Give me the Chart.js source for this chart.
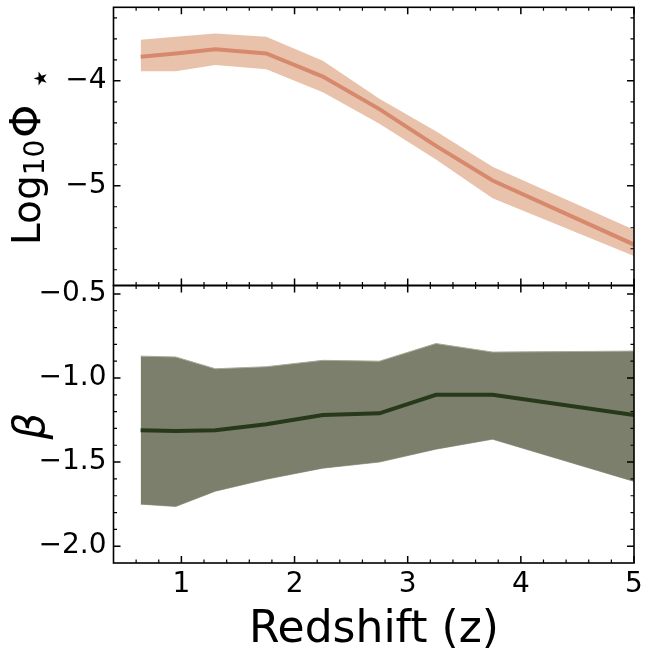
<!DOCTYPE html>
<html>
<head>
<meta charset="utf-8">
<script src="https://cdn.jsdelivr.net/npm/chart.js@4.4.0/dist/chart.umd.min.js"></script>
<style>
	html, body { margin: 0; padding: 0; background: #fff; }
	#wrap { position: relative; width: 645px; height: 652px; overflow: hidden; }
	canvas { position: absolute; left: 0; }
	#phiChart { top: 0; width: 645px; height: 290px; }
	#betaChart { top: 280px; width: 645px; height: 372px; }
</style>
</head>
<body>
<div id="wrap">
	<canvas id="phiChart" width="645" height="290"></canvas>
	<canvas id="betaChart" width="645" height="372"></canvas>
</div>
<script>
// redshift bins
const redshift = [0.64, 0.95, 1.3, 1.75, 2.25, 2.75, 3.25, 3.75, 5.0];

// log10 phi* : median and band
const logPhiMid = [-3.77, -3.74, -3.70, -3.74, -3.96, -4.27, -4.62, -4.95, -5.56];
const logPhiHi = [-3.61, -3.58, -3.55, -3.58, -3.81, -4.17, -4.48, -4.82, -5.42];
const logPhiLo = [-3.91, -3.91, -3.85, -3.89, -4.11, -4.41, -4.75, -5.12, -5.67];

// beta : median and band
const betaMid = [-1.31, -1.315, -1.31, -1.275, -1.22, -1.21, -1.10, -1.10, -1.22];
const betaHi = [-0.87, -0.875, -0.945, -0.933, -0.895, -0.90, -0.795, -0.846, -0.84];
const betaLo = [-1.75, -1.764, -1.673, -1.602, -1.536, -1.50, -1.423, -1.364, -1.615];

// ticks
const xMajor = [1, 2, 3, 4, 5];
const xMinor = [0.6, 0.8, 1.2, 1.4, 1.6, 1.8, 2.2, 2.4, 2.6, 2.8, 3.2, 3.4, 3.6, 3.8, 4.2, 4.4, 4.6, 4.8];
const phiMajor = [-5, -4];
const phiMinor = [-5.8, -5.6, -5.4, -5.2, -4.8, -4.6, -4.4, -4.2, -3.8, -3.6, -3.4];
const betaMajor = [-2.0, -1.5, -1.0, -0.5];
const betaMinor = [-1.9, -1.8, -1.7, -1.6, -1.4, -1.3, -1.2, -1.1, -0.9, -0.8, -0.7, -0.6];

const FONT = '"DejaVu Sans", sans-serif';
const pts = ys => redshift.map((z, i) => ({ x: z, y: ys[i] }));
const minus = (v, d) => (v < 0 ? '\u2212' : '') + Math.abs(v).toFixed(d);

// inward matplotlib-style ticks on all four sides plus the frame
function frameTicks(yMajor, yMinor) {
	return {
		id: 'frameTicks',
		afterDatasetsDraw(chart) {
			const { ctx, chartArea: a, scales } = chart;
			ctx.save();
			ctx.strokeStyle = '#000';
			const xs = (vals, len, w) => {
				ctx.lineWidth = w;
				vals.forEach(v => {
					const px = scales.x.getPixelForValue(v);
					ctx.beginPath();
					ctx.moveTo(px, a.bottom); ctx.lineTo(px, a.bottom - len);
					ctx.moveTo(px, a.top); ctx.lineTo(px, a.top + len);
					ctx.stroke();
				});
			};
			const ys = (vals, len, w) => {
				ctx.lineWidth = w;
				vals.forEach(v => {
					const py = scales.y.getPixelForValue(v);
					ctx.beginPath();
					ctx.moveTo(a.left, py); ctx.lineTo(a.left + len, py);
					ctx.moveTo(a.right, py); ctx.lineTo(a.right - len, py);
					ctx.stroke();
				});
			};
			xs(xMajor, 7, 1.5);
			xs(xMinor, 3.5, 1.2);
			ys(yMajor, 7, 1.5);
			ys(yMinor, 3.5, 1.2);
			ctx.lineWidth = 1.6;
			ctx.strokeRect(a.left, a.top, a.right - a.left, a.bottom - a.top);
			ctx.restore();
		}
	};
}

const phiLabel = {
	id: 'phiLabel',
	afterDraw(chart) {
		const ctx = chart.ctx;
		ctx.save();
		ctx.translate(40, 245);
		ctx.rotate(-Math.PI / 2);
		ctx.fillStyle = '#000';
		ctx.textAlign = 'left';
		ctx.textBaseline = 'alphabetic';
		let cx = 0;
		ctx.font = '39px ' + FONT;
		ctx.fillText('Log', cx, 0);
		cx += ctx.measureText('Log').width;
		ctx.font = '28px ' + FONT;
		ctx.fillText('10', cx, 4);
		cx += ctx.measureText('10').width + 2;
		ctx.font = '42px ' + FONT;
		ctx.fillText('\u03A6', cx, 0);
		cx += ctx.measureText('\u03A6').width + 15;
		ctx.font = '36px ' + FONT;
		ctx.fillText('\u22C6', cx, 12);
		ctx.restore();
	}
};

const betaLabels = {
	id: 'betaLabels',
	afterDraw(chart) {
		const ctx = chart.ctx;
		ctx.save();
		ctx.fillStyle = '#000';
		ctx.textBaseline = 'alphabetic';
		ctx.textAlign = 'center';
		ctx.font = '44px ' + FONT;
		ctx.fillText('Redshift (z)', 374, 362);
		ctx.translate(44, 146);
		ctx.rotate(-Math.PI / 2);
		ctx.font = 'italic 42px ' + FONT;
		ctx.fillText('\u03B2', 0, 0);
		ctx.restore();
	}
};

function baseOptions(yMin, yMax, yTicks, digits, padding, showX) {
	return {
		responsive: false,
		animation: false,
		events: [],
		layout: { padding },
		plugins: { legend: { display: false }, tooltip: { enabled: false } },
		scales: {
			x: {
				type: 'linear',
				min: 0.4,
				max: 5.0,
				display: showX,
				grid: { display: false, drawTicks: false },
				border: { display: false },
				afterBuildTicks: s => { s.ticks = xMajor.map(v => ({ value: v })); },
				afterFit: s => {
					if (showX) s.height = 89;
					s.paddingLeft = 0;
					s.paddingRight = 0;
				},
				ticks: {
					padding: 5,
					color: '#000',
					font: { family: FONT, size: 28 },
					maxRotation: 0,
					autoSkip: false,
					callback: v => String(v)
				}
			},
			y: {
				type: 'linear',
				min: yMin,
				max: yMax,
				grid: { display: false, drawTicks: false },
				border: { display: false },
				afterBuildTicks: s => { s.ticks = yTicks.map(v => ({ value: v })); },
				afterFit: s => {
					s.width = 113.5;
					s.paddingTop = 0;
					s.paddingBottom = 0;
				},
				ticks: {
					padding: 7,
					color: '#000',
					font: { family: FONT, size: 28 },
					callback: v => minus(v, digits)
				}
			}
		}
	};
}

new Chart(document.getElementById('phiChart'), {
	type: 'line',
	data: {
		datasets: [
			{ data: pts(logPhiMid), borderColor: '#d6896c', borderWidth: 4, pointRadius: 0, fill: false, order: 0 },
			{ data: pts(logPhiHi), borderWidth: 0, pointRadius: 0, backgroundColor: '#e9c2ac', fill: '+1', order: 1 },
			{ data: pts(logPhiLo), borderWidth: 0, pointRadius: 0, fill: false, order: 2 }
		]
	},
	options: baseOptions(-5.95, -3.3, phiMajor, 0, { top: 7.3, bottom: 4.5, left: 0, right: 11 }, false),
	plugins: [frameTicks(phiMajor, phiMinor), phiLabel]
});

new Chart(document.getElementById('betaChart'), {
	type: 'line',
	data: {
		datasets: [
			{ data: pts(betaMid), borderColor: '#263a1a', borderWidth: 4, pointRadius: 0, fill: false, order: 0 },
			{ data: pts(betaHi), borderColor: '#a9ac9b', borderWidth: 1, pointRadius: 0, backgroundColor: '#7c7f6b', fill: '+1', order: 1 },
			{ data: pts(betaLo), borderColor: '#a9ac9b', borderWidth: 1, pointRadius: 0, fill: false, order: 2 }
		]
	},
	options: baseOptions(-2.1, -0.45, betaMajor, 1, { top: 5.5, bottom: 0, left: 0, right: 11 }, true),
	plugins: [frameTicks(betaMajor, betaMinor), betaLabels]
});
</script>
</body>
</html>
